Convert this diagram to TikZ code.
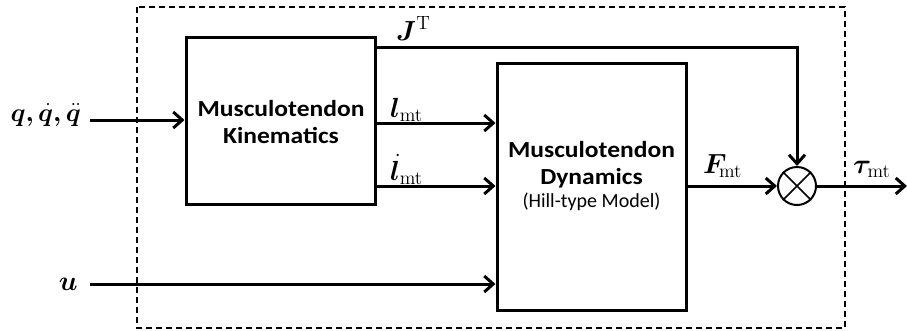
\documentclass[tikz,border=0pt]{standalone}
\usepackage{amsmath,bm,graphicx}
\usepackage[no-math]{fontspec}
\setmainfont{Carlito}
\usetikzlibrary{arrows.meta}
\newcommand{\mlabtxt}[1]{\scalebox{1.6}{$#1$}}
\newcommand{\widetxt}[1]{\scalebox{1.11}[1]{#1}}
\begin{document}
\begin{tikzpicture}[x=1pt,y=-1pt,
  blockbox/.style={draw,line width=3pt,inner sep=0pt},
  conn/.style={line width=3pt,-{Straight Barb[length=9pt,width=16pt,line width=3pt]}},
  mlab/.style={inner sep=0pt,font=\fontsize{17.28}{20}\selectfont},
  btxt/.style={align=center,font=\fontsize{23}{27}\selectfont\bfseries}]
\useasboundingbox (0,0) rectangle (907,330);
\draw[dashed,line width=1.3pt,dash pattern=on 6pt off 4pt] (137,7) rectangle (845,328);
\node[blockbox,minimum width=189pt,minimum height=167pt] (kin) at (280.5,120.5) {};
\node[btxt] at (281,122) {\widetxt{Musculotendon}\\\widetxt{Kinematics}};
\node[blockbox,minimum width=189pt,minimum height=247pt] (dyn) at (591.5,186.5) {};
\node[btxt] (dyntxt) at (591.5,176) {\widetxt{Musculotendon}\\\widetxt{Dynamics}\\[-4pt]{\mdseries\fontsize{20}{24}\selectfont(Hill-type Model)}};
\node[draw,circle,line width=2pt,minimum size=38pt,inner sep=0pt] (mult) at (797,186) {};
\draw[line width=1.6pt] (mult.north west) -- (mult.south east) (mult.north east) -- (mult.south west);
% inputs
\coordinate (qin) at (90,120);
\coordinate (uin) at (90,284);
\node[mlab,anchor=base east] (qlab) at (81,121) {\scalebox{1.5}{$\bm{q}\bm{,}\dot{\bm{q}}\bm{,}\ddot{\bm{q}}$}};
\node[mlab,anchor=base east] (ulab) at (78,290) {\mlabtxt{\bm{u}}};
\draw[conn] (qin) -- (kin.west |- qin);
\draw[conn] (uin) -- (dyn.west |- uin);
% kinematics outputs
\coordinate (jstart) at (377,47);
\coordinate (jcorner) at (797,47);
\draw[line width=3pt,-{Straight Barb[length=9pt,width=16pt,line width=3pt]}] (jstart) -- (jcorner) -- (mult.north);
\coordinate (l1) at (377,123);
\coordinate (l2) at (377,186);
\draw[conn] (l1) -- (dyn.west |- l1);
\draw[conn] (l2) -- (dyn.west |- l2);
\node[mlab,anchor=base west] (jlab) at (396,40) {\mlabtxt{\bm{J}^{\mathrm{T}}}};
\node[mlab,anchor=base west] (l1lab) at (390,117) {\mlabtxt{\bm{l}_{\mathrm{mt}}}};
\node[mlab,anchor=base west] (l2lab) at (390,180) {\mlabtxt{\dot{\bm{l}}_{\mathrm{mt}}}};
% dynamics output
\draw[conn] (dyn.east |- mult) -- (mult.west);
\node[mlab,anchor=base west] (flab) at (703,173) {\mlabtxt{\bm{F}_{\!\mathrm{mt}}}};
\coordinate (tout) at (907,186);
\draw[conn] (mult.east) -- (tout);
\node[mlab,anchor=base west] (tlab) at (853,173) {\mlabtxt{\bm{\tau}_{\mathrm{mt}}}};
\end{tikzpicture}
\end{document}
